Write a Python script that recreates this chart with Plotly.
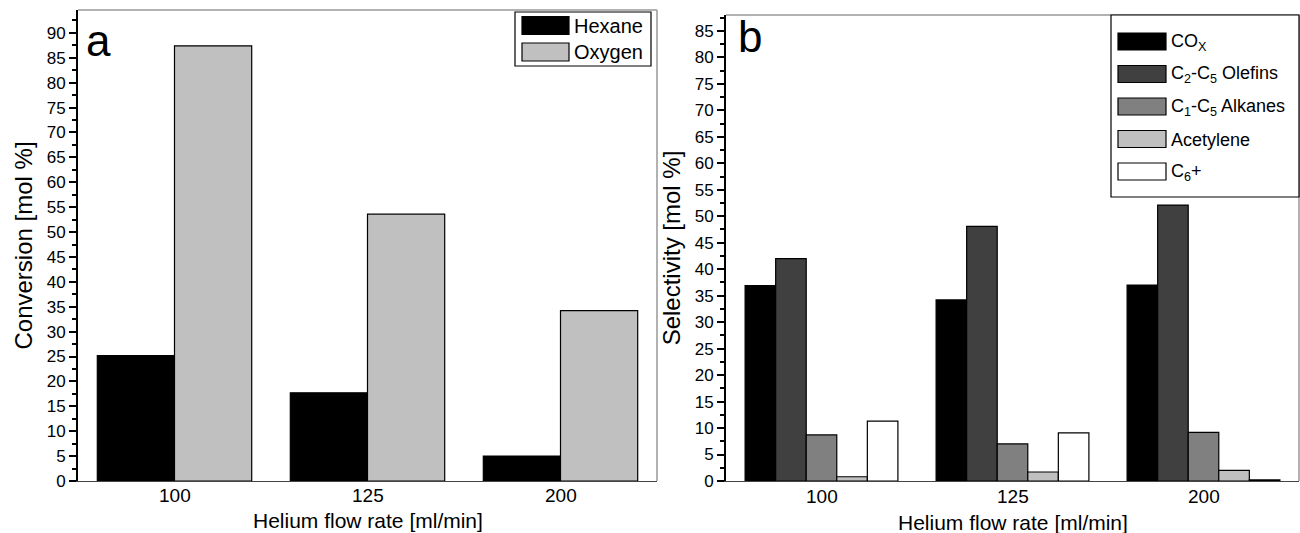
import plotly.graph_objects as go

W, H = 1300, 533

# ---------------- data ----------------
categories = ["100", "125", "200"]

conv_names = ["Hexane", "Oxygen"]
conv_colors = ["#000000", "#c0c0c0"]
hexane = [25.2, 17.7, 5.0]
oxygen = [87.4, 53.6, 34.2]

sel_names = ["CO<sub>X</sub>", "C<sub>2</sub>-C<sub>5</sub> Olefins",
             "C<sub>1</sub>-C<sub>5</sub> Alkanes", "Acetylene", "C<sub>6</sub>+"]
sel_colors = ["#000000", "#404040", "#808080", "#c0c0c0", "#ffffff"]
cox = [36.9, 34.2, 37.0]
olefins = [42.0, 48.1, 52.1]
alkanes = [8.7, 7.0, 9.2]
acetylene = [0.8, 1.7, 2.0]
c6plus = [11.3, 9.1, 0.2]

conv_series = [hexane, oxygen]
sel_series = [cox, olefins, alkanes, acetylene, c6plus]

FONT = "Liberation Sans, Arial, sans-serif"

def px(x):
    return x / W

def py(y):
    return 1 - y / H

fig = go.Figure()

for name, col, vals in zip(conv_names, conv_colors, conv_series):
    fig.add_trace(go.Bar(x=categories, y=vals, name=name, marker_color=col,
                         marker_line=dict(color="#000000", width=1.2),
                         xaxis="x", yaxis="y", showlegend=False))

for name, col, vals in zip(sel_names, sel_colors, sel_series):
    fig.add_trace(go.Bar(x=categories, y=vals, name=name, marker_color=col,
                         marker_line=dict(color="#000000", width=1.2),
                         xaxis="x2", yaxis="y2", showlegend=False))

yax_common = dict(
    automargin=False,
    showline=True, linecolor="#000000", linewidth=2,
    ticks="outside", ticklen=7, tickwidth=1.5, tickcolor="#000000",
    dtick=5, tick0=0, showgrid=False, zeroline=False,
    tickfont=dict(family=FONT, size=17, color="#000000"),
    minor=dict(ticks="outside", ticklen=4, tickwidth=1.5, tickcolor="#000000", dtick=2.5, showgrid=False),
)
xax_common = dict(
    automargin=False,
    type="category", range=[-0.5, 2.5], showline=True, linecolor="#444444", linewidth=1.2,
    ticks="", showgrid=False, zeroline=False, showticklabels=False,
)
TITLE_FONT = dict(family=FONT, size=21, color="#000000")
YTITLE_FONT = dict(family=FONT, size=24, color="#000000")

fig.update_layout(
    width=W, height=H,
    margin=dict(l=0, r=0, t=0, b=0),
    paper_bgcolor="white", plot_bgcolor="white",
    barmode="group", bargap=0.2, bargroupgap=0,
    font=dict(family=FONT, color="#000000"),
    xaxis=dict(domain=[px(78), px(657)], anchor="y", **xax_common),
    yaxis=dict(domain=[py(481), py(10)], anchor="x", range=[0, 94.6],
               title=dict(text="Conversion [mol %]", standoff=7, font=YTITLE_FONT), **yax_common),
    xaxis2=dict(domain=[px(726), px(1299)], anchor="y2", **xax_common),
    yaxis2=dict(domain=[py(481), py(15)], anchor="x2", range=[0, 88],
                title=dict(text="Selectivity [mol %]", standoff=7, font=YTITLE_FONT), **yax_common),
)

shapes = []
# frame top/right lines (gray)
for xr, yr in [("x domain", "y domain"), ("x2 domain", "y2 domain")]:
    shapes.append(dict(type="line", xref=xr, yref=yr, x0=0, x1=1, y0=1, y1=1,
                       line=dict(color="#999999", width=1.5)))
    shapes.append(dict(type="line", xref=xr, yref=yr, x0=1, x1=1, y0=0, y1=1,
                       line=dict(color="#999999", width=1.5)))

annotations = [
    dict(text="a", x=px(84), y=py(40), xref="paper", yref="paper", xanchor="left", yanchor="middle",
         showarrow=False, font=dict(family=FONT, size=44, color="#000000")),
    dict(text="b", x=px(736), y=py(37), xref="paper", yref="paper", xanchor="left", yanchor="middle",
         showarrow=False, font=dict(family=FONT, size=44, color="#000000")),
]

# x tick labels (placed at category index on the category axis) and x titles
for xr, dom, ty, title_y in [("x", "x domain", 495, 520), ("x2", "x2 domain", 496, 522)]:
    for i, c in enumerate(categories):
        annotations.append(dict(text=c, x=i, xref=xr, y=py(ty), yref="paper",
                                xanchor="center", yanchor="middle", showarrow=False,
                                font=dict(family=FONT, size=19, color="#000000")))
    annotations.append(dict(text="Helium flow rate [ml/min]", x=0.5, xref=dom, y=py(title_y), yref="paper",
                            xanchor="center", yanchor="middle", showarrow=False, font=TITLE_FONT))

# custom legend a
shapes.append(dict(type="rect", xref="paper", yref="paper", x0=px(515), x1=px(651), y0=py(66), y1=py(12),
                   line=dict(color="#000000", width=1.2), fillcolor="white"))
for i, (name, col) in enumerate(zip(conv_names, conv_colors)):
    yc = 25.5 + i * 26.5
    shapes.append(dict(type="rect", xref="paper", yref="paper", x0=px(522), x1=px(569),
                       y0=py(yc + 9), y1=py(yc - 9), fillcolor=col, line=dict(color="#000000", width=1.2)))
    annotations.append(dict(text=name, x=px(572), y=py(yc), xref="paper", yref="paper",
                            xanchor="left", yanchor="middle", showarrow=False,
                            font=dict(family=FONT, size=20, color="#000000")))

# custom legend b
shapes.append(dict(type="rect", xref="paper", yref="paper", x0=px(1111), x1=px(1299), y0=py(197), y1=py(15),
                   line=dict(color="#000000", width=1.2), fillcolor="white"))
for i, (name, col) in enumerate(zip(sel_names, sel_colors)):
    yc = 41.5 + i * 32.5
    shapes.append(dict(type="rect", xref="paper", yref="paper", x0=px(1118), x1=px(1166),
                       y0=py(yc + 8.5), y1=py(yc - 8.5), fillcolor=col, line=dict(color="#000000", width=1.2)))
    annotations.append(dict(text=name, x=px(1169), y=py(yc + 1), xref="paper", yref="paper",
                            xanchor="left", yanchor="middle", showarrow=False,
                            font=dict(family=FONT, size=18, color="#000000")))

fig.update_layout(shapes=shapes, annotations=annotations)

fig.write_html("out.html", config={"displayModeBar": False},
               post_script="document.body.style.margin='0';")
